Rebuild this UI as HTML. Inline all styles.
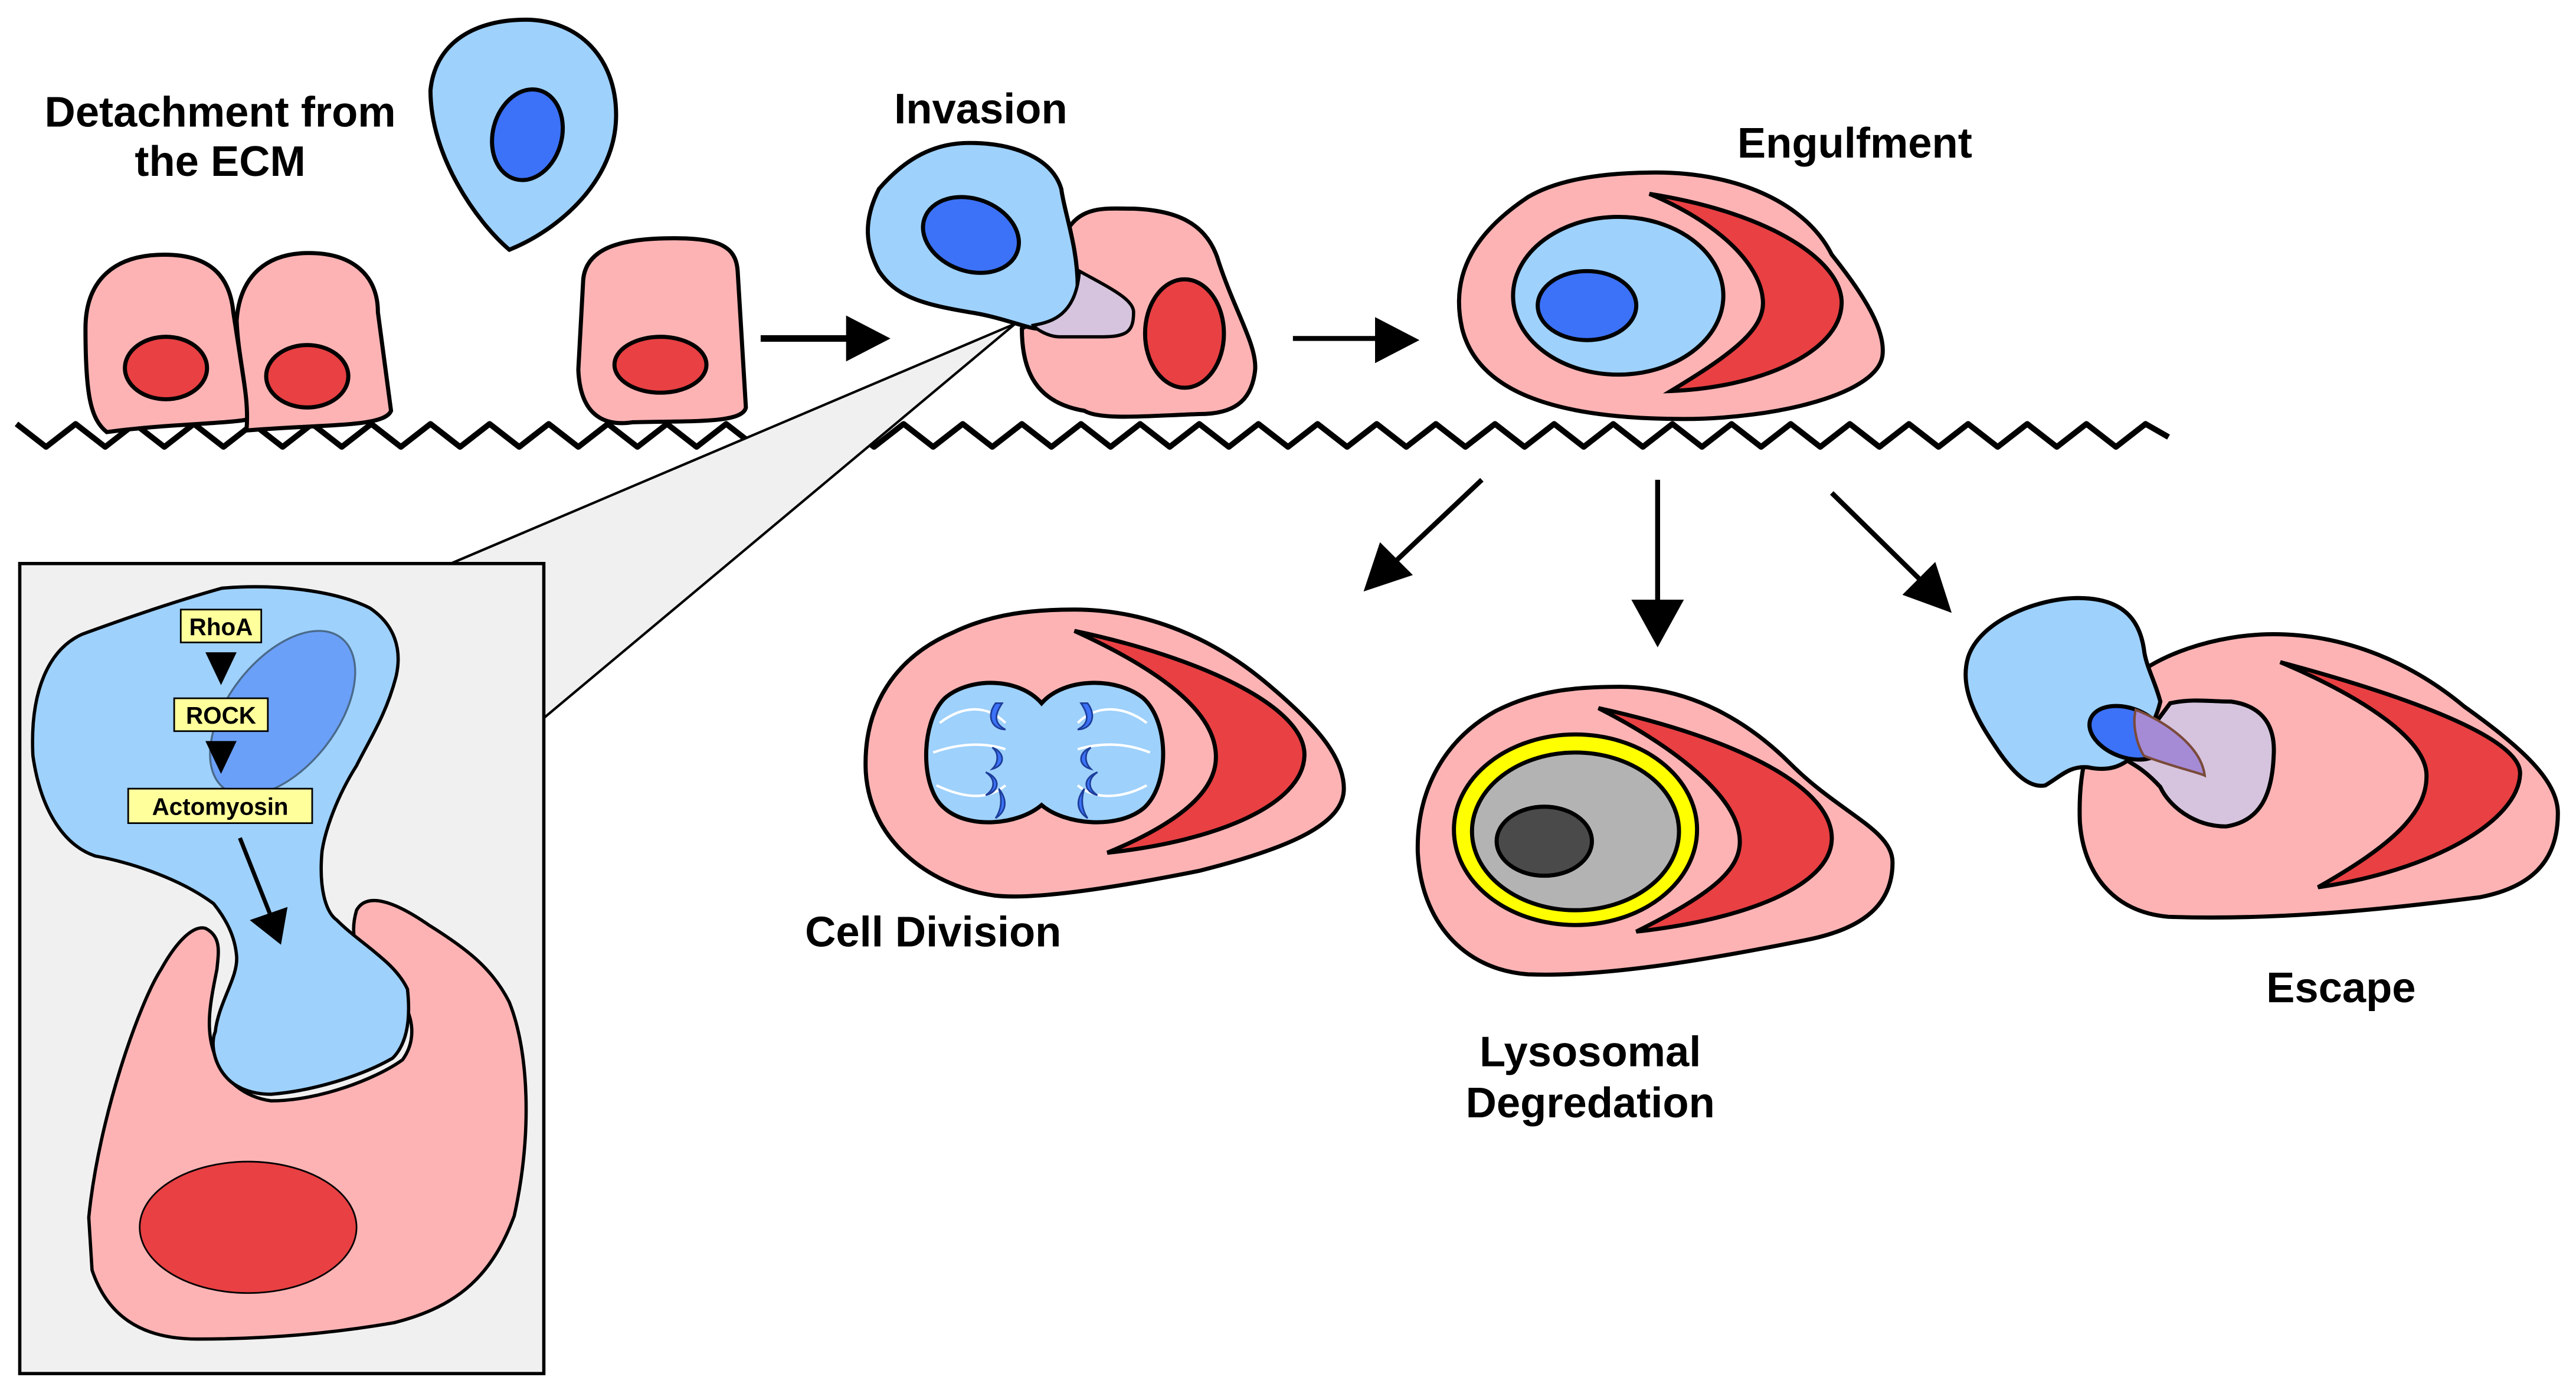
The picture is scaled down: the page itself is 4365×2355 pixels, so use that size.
<!DOCTYPE html>
<html><head><meta charset="utf-8"><style>
html,body{margin:0;padding:0;background:#fff;}
svg{display:block;}
text{font-family:"Liberation Sans",Arial,sans-serif;font-weight:bold;fill:#000;}
</style></head><body>
<svg width="4365" height="2355" viewBox="0 0 1568 846" xmlns="http://www.w3.org/2000/svg">
<rect width="1568" height="846" fill="#fff"/>

<!-- wave -->
<polyline fill="none" stroke="#000" stroke-width="3.5" stroke-linejoin="round" points="10,258 28,272 46,258 64,272 82,258 100,272 118,258 136,272 154,258 172,272 190,258 208,272 226,258 244,272 262,258 280,272 298,258 316,272 334,258 352,272 370,258 388,272 406,258 424,272 442,258 460,272 478,258 496,272 514,258 532,272 550,258 568,272 586,258 604,272 622,258 640,272 658,258 676,272 694,258 712,272 730,258 748,272 766,258 784,272 802,258 820,272 838,258 856,272 874,258 892,272 910,258 928,272 946,258 964,272 982,258 1000,272 1018,258 1036,272 1054,258 1072,272 1090,258 1108,272 1126,258 1144,272 1162,258 1180,272 1198,258 1216,272 1234,258 1252,272 1270,258 1288,272 1306,258 1320,266"/>

<!-- zoom triangle -->
<polygon points="618,197 272,344 331,437" fill="#f0f0f0" stroke="none"/>
<line x1="618" y1="197" x2="272" y2="344" stroke="#000" stroke-width="1.5"/>
<line x1="618" y1="197" x2="331" y2="437" stroke="#000" stroke-width="1.5"/>

<!-- left cells -->
<g stroke="#000" stroke-width="2.5">
<path d="M52,200 C52,170 70,155 100,155 C130,155 140,170 142,190 L152,255 C140,258 100,258 65,263 C55,255 52,240 52,200 Z" fill="#fdb3b4"/>
<ellipse cx="101" cy="224" rx="25" ry="19" fill="#e84043"/>
<path d="M144,195 C146,168 162,154 188,154 C215,154 230,168 230,190 L238,250 C234,260 200,258 150,262 C152,240 145,220 144,195 Z" fill="#fdb3b4"/>
<ellipse cx="187" cy="229" rx="25" ry="19" fill="#e84043"/>
<path d="M355,170 C357,150 380,145 410,145 C438,145 448,150 449,165 L454,248 C452,258 420,256 385,257 C365,260 353,250 352,225 Z" fill="#fdb3b4"/>
<ellipse cx="402" cy="222" rx="28" ry="17" fill="#e84043"/>
<path d="M262,55 C265,25 290,12 320,12 C352,12 375,35 375,70 C375,110 340,140 310,152 C290,135 262,95 262,55 Z" fill="#9ed1fc"/>
<ellipse cx="321" cy="82" rx="21" ry="28" fill="#3c72f8" transform="rotate(15 321 82)"/>
</g>
<text x="134" y="77" font-size="26" text-anchor="middle">Detachment from</text>
<text x="134" y="107" font-size="26" text-anchor="middle">the ECM</text>

<!-- arrows top -->
<line x1="463" y1="206" x2="518" y2="206" stroke="#000" stroke-width="4"/>
<polygon points="515,192 542,206 515,220" fill="#000"/>
<line x1="787" y1="206" x2="840" y2="206" stroke="#000" stroke-width="3"/>
<polygon points="837,193 864,207 837,221" fill="#000"/>

<!-- Invasion -->
<text x="597" y="75" font-size="26" text-anchor="middle">Invasion</text>
<g stroke="#000" stroke-width="2.5">
<path d="M651,138 C660,125 675,127 690,127 C715,128 735,135 742,160 C752,190 765,210 764,225 C762,245 750,252 730,252 C700,253 670,256 660,250 C630,245 622,225 622,200 C640,190 660,175 651,138 Z" fill="#fdb3b4"/>
<ellipse cx="721" cy="203" rx="24" ry="33" fill="#e84043"/>
<path d="M590,87 C565,87 548,100 535,115 C525,135 527,150 535,165 C545,180 560,185 590,190 C610,193 625,200 632,200 C640,200 655,192 656,175 C656,150 648,130 646,115 C640,95 615,87 590,87 Z" fill="#9ed1fc"/>
<ellipse cx="591" cy="143" rx="30" ry="22" fill="#3c72f8" transform="rotate(20 591 143)"/>
<path d="M657,165 C675,175 690,182 690,190 C690,202 686,205 670,205 L645,205 C638,205 630,200 629,198 C640,196 655,192 657,165 Z" fill="#d6c4de" stroke-width="2"/>
</g>

<!-- Engulfment -->
<text x="1129" y="96" font-size="26" text-anchor="middle">Engulfment</text>
<g stroke="#000" stroke-width="2.5">
<path d="M1008,105 C1060,105 1100,125 1115,155 C1135,180 1147,200 1146,215 C1145,240 1080,255 1025,255 C950,255 900,240 890,200 C882,165 900,140 930,120 C950,108 980,105 1008,105 Z" fill="#fdb3b4"/>
<ellipse cx="985" cy="180" rx="64" ry="48" fill="#9ed1fc"/>
<ellipse cx="966" cy="186" rx="30" ry="21" fill="#3c72f8"/>
<path d="M1004,118 C1080,130 1122,160 1121,185 C1120,215 1070,236 1017,238 C1055,215 1075,200 1073,182 C1071,160 1045,135 1004,118 Z" fill="#e84043"/>
</g>

<!-- diagonal arrows -->
<line x1="902" y1="292" x2="848" y2="343" stroke="#000" stroke-width="3"/>
<polygon points="830,360 840,330 860,350" fill="#000"/>
<line x1="1009" y1="292" x2="1009" y2="368" stroke="#000" stroke-width="3"/>
<polygon points="993,365 1025,365 1009,394" fill="#000"/>
<line x1="1115" y1="300" x2="1170" y2="354" stroke="#000" stroke-width="3"/>
<polygon points="1188,373 1158,362 1178,342" fill="#000"/>

<!-- Cell Division -->
<g stroke="#000" stroke-width="2.5">
<path d="M654,371 C700,371 740,390 770,415 C800,440 818,460 818,480 C818,500 790,515 730,530 C680,540 630,548 605,545 C570,540 530,515 527,470 C525,430 545,400 580,385 C605,373 630,371 654,371 Z" fill="#fdb3b4"/>
<path d="M654,384 C730,400 795,430 794,460 C793,490 740,512 674,519 C720,500 742,480 740,458 C738,430 700,405 654,384 Z" fill="#e84043"/>
<path d="M634,428 C620,412 590,412 575,425 C560,440 560,480 575,492 C590,505 620,502 634,490 C648,502 680,505 696,492 C712,478 712,440 696,425 C680,412 648,412 634,428 Z" fill="#9ed1fc"/>
</g>
<g stroke="#fff" stroke-width="1.5" fill="none">
<path d="M572,440 C585,430 600,428 612,440"/><path d="M568,458 C585,452 600,452 612,456"/><path d="M570,478 C585,485 600,488 612,478"/>
<path d="M656,440 C668,428 685,430 698,440"/><path d="M656,456 C670,452 685,452 700,458"/><path d="M656,478 C668,488 685,485 698,478"/>
</g>
<g fill="#3c72f8" stroke="#1d3e9a" stroke-width="1">
<path d="M606,428 C600,436 604,444 612,444 C604,440 606,434 610,428 Z"/>
<path d="M662,428 C668,436 664,444 656,444 C664,440 662,434 658,428 Z"/>
<path d="M604,455 C612,458 612,466 604,468 C608,464 608,458 604,455 Z"/>
<path d="M664,455 C656,458 656,466 664,468 C660,464 660,458 664,455 Z"/>
<path d="M600,470 C610,474 608,482 600,484 C606,480 606,474 600,470 Z"/>
<path d="M668,470 C658,474 660,482 668,484 C662,480 662,474 668,470 Z"/>
<path d="M608,480 C614,488 612,494 606,498 C610,492 610,486 608,480 Z"/>
<path d="M660,480 C654,488 656,494 662,498 C658,492 658,486 660,480 Z"/>
</g>
<text x="568" y="576" font-size="26" text-anchor="middle">Cell Division</text>

<!-- Lysosomal -->
<g stroke="#000" stroke-width="2.5">
<path d="M986,418 C1030,418 1065,440 1090,465 C1120,495 1152,505 1152,525 C1152,550 1135,565 1100,572 C1050,582 980,595 930,593 C890,590 865,560 863,519 C862,480 880,450 910,433 C935,420 960,418 986,418 Z" fill="#fdb3b4"/>
<ellipse cx="959" cy="505" rx="74" ry="58" fill="#ffff00"/>
<ellipse cx="959" cy="506" rx="63" ry="48" fill="#b3b3b3"/>
<ellipse cx="940" cy="512" rx="29" ry="21" fill="#4a4a4a"/>
<path d="M973,431 C1060,450 1116,480 1115,511 C1114,540 1060,560 996,567 C1040,545 1060,530 1059,511 C1058,485 1020,455 973,431 Z" fill="#e84043"/>
</g>
<text x="968" y="649" font-size="26" text-anchor="middle">Lysosomal</text>
<text x="968" y="680" font-size="26" text-anchor="middle">Degredation</text>

<!-- Escape -->
<g stroke="#000" stroke-width="2.5">
<path d="M1384,386 C1430,386 1470,405 1500,430 C1535,455 1557,475 1557,495 C1557,525 1540,540 1510,546 C1440,555 1380,560 1320,558 C1285,555 1268,530 1266,500 C1265,470 1270,445 1290,420 C1310,398 1350,386 1384,386 Z" fill="#fdb3b4"/>
<path d="M1388,403 C1470,425 1535,450 1534,471 C1533,500 1480,530 1411,540 C1455,515 1478,495 1477,471 C1476,450 1440,425 1388,403 Z" fill="#e84043"/>
<path d="M1321,428 C1335,425 1345,427 1358,427 C1380,430 1385,445 1384,460 C1383,485 1375,500 1355,503 C1335,503 1320,490 1315,479 C1305,468 1298,465 1295,463 Z" fill="#d6c4de"/>
<path d="M1265,364 C1240,364 1205,378 1198,400 C1192,420 1205,440 1215,455 C1225,470 1235,480 1245,478 C1255,472 1260,466 1271,467 C1285,470 1292,465 1295,463 C1303,455 1312,440 1315,427 C1312,415 1306,405 1305,395 C1302,375 1290,364 1265,364 Z" fill="#9ed1fc"/>
<ellipse cx="1295" cy="446" rx="24" ry="15" fill="#3c72f8" transform="rotate(20 1295 446)"/>
<path d="M1300,432 C1320,440 1340,455 1342,472 C1338,470 1320,466 1305,460 C1300,452 1298,440 1300,432 Z" fill="#a58bd6" stroke="#7a4a3a" stroke-width="1.5"/>
</g>
<text x="1425" y="610" font-size="26" text-anchor="middle">Escape</text>

<!-- Inset -->
<rect x="12" y="343" width="319" height="493" fill="#f0f0f0" stroke="#000" stroke-width="2"/>
<g stroke="#000" stroke-width="2">
<path d="M54,741 C60,680 85,610 98,590 C108,572 118,563 125,565 C135,570 133,580 132,590 C128,610 125,625 130,640 C135,658 150,668 165,670 C195,670 230,656 245,645 C256,630 250,610 235,598 C225,588 210,578 217,554 C222,545 235,545 261,563 C285,578 300,590 310,610 C322,640 324,690 313,740 C300,775 280,795 240,805 C200,812 160,815 120,815 C85,815 65,800 56,773 Z" fill="#fdb3b4"/>
<ellipse cx="151" cy="747" rx="66" ry="40" fill="#e84043" stroke-width="1"/>
<path d="M20,460 C18,420 30,395 50,386 C80,375 110,365 135,358 C170,355 205,360 225,370 C240,380 245,395 241,412 C235,435 225,450 217,466 C205,485 198,505 196,518 C194,540 198,555 205,560 C220,575 240,585 248,602 C250,620 248,635 239,644 C220,655 190,664 165,666 C150,666 142,660 139,657 C130,648 128,635 131,628 C133,610 145,595 144,582 C143,570 138,560 130,550 C110,535 80,525 58,521 C40,515 25,495 20,460 Z" fill="#9ed1fc"/>
</g>
<ellipse cx="172" cy="434" rx="33" ry="58" fill="#6ba0f9" stroke="#4a6a8a" stroke-width="1.2" transform="rotate(38 172 434)"/>
<rect x="110" y="371" width="49" height="20" fill="#ffff9c" stroke="#000" stroke-width="1"/>
<text x="134.5" y="386.5" text-anchor="middle" font-size="14.5">RhoA</text>
<polygon points="125,397 144,397 134.5,417" fill="#000"/>
<rect x="106" y="425" width="57" height="20" fill="#ffff9c" stroke="#000" stroke-width="1"/>
<text x="134.5" y="440.5" text-anchor="middle" font-size="14.5">ROCK</text>
<polygon points="125,451 144,451 134.5,471" fill="#000"/>
<rect x="78" y="480" width="112" height="21" fill="#ffff9c" stroke="#000" stroke-width="1"/>
<text x="134" y="496" text-anchor="middle" font-size="14.5">Actomyosin</text>
<line x1="146" y1="510" x2="165" y2="558" stroke="#000" stroke-width="2.5"/>
<polygon points="152,560 175,552 171,575" fill="#000"/>
</svg>
</body></html>
